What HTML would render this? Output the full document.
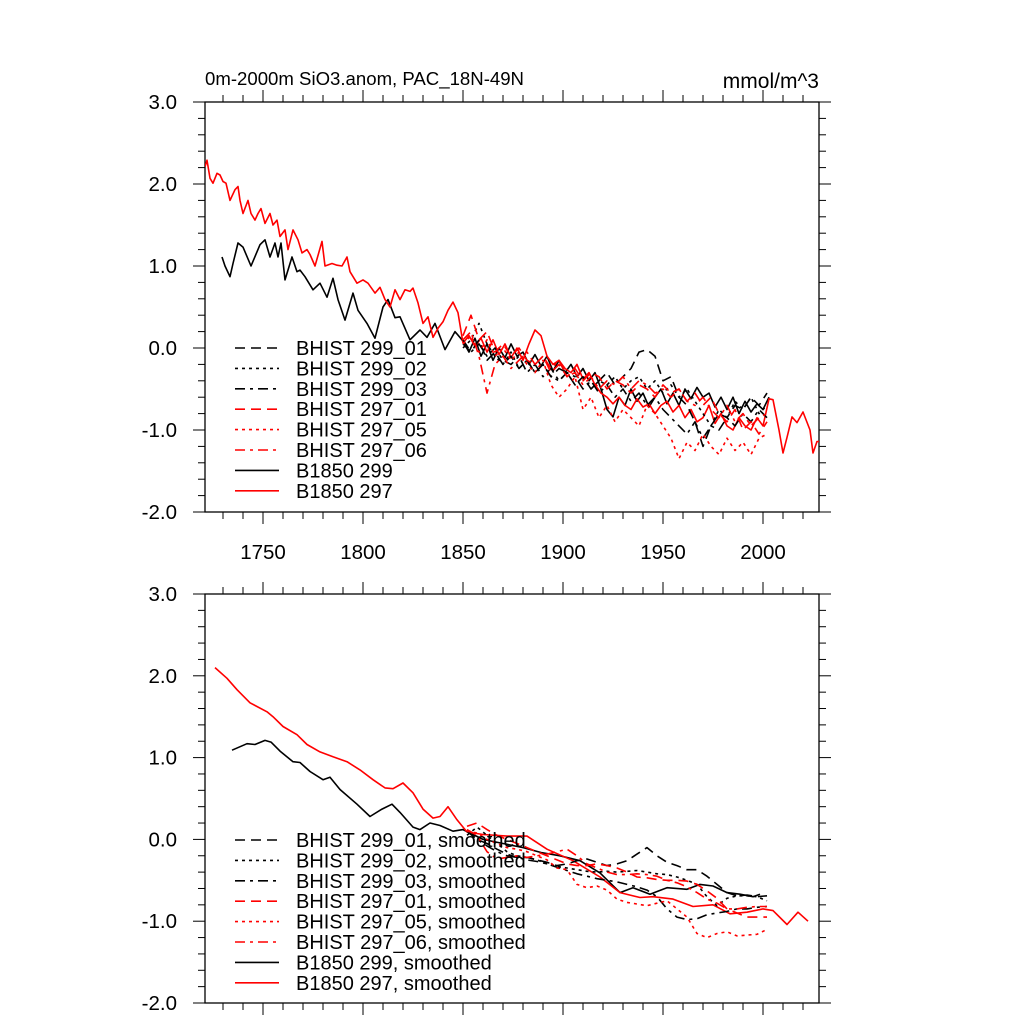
<!DOCTYPE html>
<html><head><meta charset="utf-8"><style>
html,body{margin:0;padding:0;background:#fff;}
svg{display:block;font-family:"Liberation Sans",sans-serif;}
</style></head><body>
<svg id="chart" width="1024" height="1024" viewBox="0 0 1024 1024">
<defs>
<clipPath id="c1"><rect x="205" y="102" width="614" height="410"/></clipPath>
<clipPath id="c2"><rect x="205" y="594" width="614" height="409"/></clipPath>
</defs>
<text x="205" y="85" font-size="18.6">0m-2000m SiO3.anom, PAC_18N-49N</text>
<text x="819" y="88" font-size="21" text-anchor="end">mmol/m^3</text>
</svg>
<script>
const xTicks=[1750,1800,1850,1900,1950,2000];
const yTicks=[3,2,1,0,-1,-2];
const yTickLabels=["3.0","2.0","1.0","0.0","-1.0","-2.0"];
const ctlRedYears=[1721,1722,1723.5,1725,1727,1728.5,1730,1731.5,1733.5,1736,1737.5,1738.5,1740,1742.5,1744,1746,1747.5,1749,1751,1753.5,1755,1757,1758.5,1761,1762.5,1765,1767.5,1769.5,1772,1773.5,1776,1779.5,1781,1784.5,1787,1789.5,1792,1793.5,1797,1800,1802.5,1806,1808.5,1811,1813.5,1816,1818.5,1821,1823.5,1825,1827.5,1830,1832.5,1835,1837.5,1840,1842.5,1845,1847.5,1850,1853,1856,1859,1862,1865,1868,1871,1874,1877,1880,1883,1886,1889,1892,1895,1898,1901,1904,1907,1910,1913,1916,1919,1922,1925,1928,1931,1934,1937,1940,1943,1946,1949,1952,1955,1958,1961,1964,1967,1970,1973,1976,1979,1982,1985,1988,1991,1994,1997,2000,2003,2005,2008,2010,2012,2014.5,2017,2020,2023.5,2025,2027,2028];
const ctlRedVals=[2.21,2.29,2.07,2.01,2.13,2.11,2.03,2.01,1.80,1.93,1.97,1.80,1.64,1.80,1.64,1.56,1.64,1.70,1.52,1.64,1.50,1.56,1.36,1.44,1.20,1.44,1.32,1.16,1.20,1.14,1.00,1.30,1.00,1.03,1.01,1.00,1.11,0.93,0.79,0.83,0.79,0.67,0.74,0.59,0.50,0.71,0.59,0.71,0.69,0.73,0.55,0.30,0.38,0.13,0.24,0.32,0.46,0.56,0.43,0.06,0.15,0.02,0.12,-0.05,0.10,-0.08,0.05,-0.12,0.0,-0.15,0.05,0.22,0.15,-0.1,-0.2,-0.15,-0.25,-0.3,-0.2,-0.38,-0.3,-0.45,-0.55,-0.6,-0.68,-0.6,-0.7,-0.75,-0.62,-0.72,-0.68,-0.8,-0.7,-0.65,-0.78,-0.7,-0.85,-0.75,-0.9,-0.85,-0.7,-0.92,-0.8,-0.95,-1.0,-0.85,-0.95,-1.0,-0.85,-0.95,-0.62,-0.63,-1.0,-1.28,-1.09,-0.84,-0.91,-0.78,-1.0,-1.28,-1.14,-1.14];
const ctlBlackYears=[1729.5,1731,1733.5,1735,1737.5,1740,1744,1748.5,1751,1753.5,1756,1757.5,1759,1761,1764.5,1767,1768.5,1771,1775,1778.5,1782,1785,1787.5,1791,1795,1797.5,1802,1806,1810,1812.5,1816,1818.5,1823.5,1828.5,1832,1836,1841,1846,1849.5,1853,1856,1859,1862,1865,1868,1871,1874,1877,1880,1883,1886,1889,1892,1895,1898,1901,1904,1907,1910,1913,1916,1919,1922,1925,1928,1931,1934,1937,1940,1943,1946,1949,1952,1955,1958,1961,1964,1967,1970,1973,1976,1979,1982,1985,1988,1991,1994,1997,2000,2003];
const ctlBlackVals=[1.11,1.0,0.87,1.03,1.28,1.23,1.0,1.26,1.32,1.11,1.28,1.11,1.28,0.83,1.11,0.93,0.95,0.87,0.71,0.79,0.62,0.85,0.59,0.34,0.67,0.46,0.30,0.12,0.50,0.59,0.37,0.38,0.10,0.22,0.13,0.30,-0.02,0.20,0.10,-0.05,0.12,-0.1,0.05,-0.15,0.0,-0.12,0.05,-0.1,-0.05,-0.2,-0.08,-0.22,-0.1,-0.28,-0.15,-0.3,-0.2,-0.35,-0.25,-0.4,-0.3,-0.5,-0.75,-0.84,-0.6,-0.7,-0.5,-0.65,-0.55,-0.72,-0.6,-0.5,-0.68,-0.55,-0.7,-0.5,-0.62,-0.48,-0.6,-0.55,-0.72,-0.6,-0.75,-0.6,-0.8,-0.65,-0.78,-0.68,-0.75,-0.6];
const histStart=1850, histStep=4;
const h299_01=[0.05,-0.05,0.1,-0.15,-0.05,-0.2,-0.1,-0.25,-0.15,-0.3,-0.2,-0.35,-0.25,-0.3,-0.45,-0.35,-0.5,-0.4,-0.3,-0.45,-0.35,-0.25,-0.05,-0.02,-0.1,-0.4,-0.35,-0.6,-0.7,-0.9,-1.2,-0.95,-0.8,-0.85,-0.7,-0.75,-0.6,-0.7,-0.55];
const h299_02=[0.0,0.1,0.3,0.05,-0.1,-0.2,-0.05,-0.25,-0.15,-0.3,-0.2,-0.35,-0.4,-0.3,-0.45,-0.35,-0.5,-0.4,-0.45,-0.35,-0.5,-0.4,-0.35,-0.5,-0.4,-0.55,-0.45,-0.6,-0.5,-0.65,-0.8,-0.95,-0.75,-0.85,-0.65,-0.75,-0.6,-0.8,-0.7];
const h299_03=[0.1,-0.05,0.05,-0.1,0.0,-0.15,-0.2,-0.1,-0.3,-0.2,-0.35,-0.25,-0.4,-0.3,-0.35,-0.5,-0.4,-0.55,-0.45,-0.6,-0.5,-0.65,-0.55,-0.7,-0.6,-0.75,-0.85,-0.95,-1.05,-0.9,-1.1,-0.95,-1.0,-0.85,-0.95,-0.8,-0.9,-0.75,-0.85];
const h297_01=[0.15,0.4,0.1,0.2,-0.05,0.05,-0.1,0.0,-0.15,-0.2,-0.1,-0.3,-0.2,-0.35,-0.25,-0.4,-0.3,-0.35,-0.5,-0.4,-0.45,-0.55,-0.45,-0.5,-0.6,-0.45,-0.55,-0.5,-0.65,-0.55,-0.7,-0.6,-0.8,-0.9,-0.75,-1.0,-0.9,-1.05,-0.9];
const h297_05=[0.05,0.15,-0.05,0.1,-0.1,0.0,-0.15,-0.05,-0.2,-0.3,-0.15,-0.45,-0.6,-0.5,-0.35,-0.75,-0.6,-0.85,-0.7,-0.9,-0.75,-0.85,-0.95,-0.7,-0.8,-0.95,-1.1,-1.35,-1.15,-1.25,-1.05,-1.2,-1.3,-1.1,-1.25,-1.15,-1.3,-1.1,-1.05];
const h297_06=[0.1,0.2,-0.1,-0.55,-0.2,-0.1,-0.25,-0.15,-0.05,-0.2,-0.1,-0.25,-0.15,-0.35,-0.3,-0.45,-0.35,-0.5,-0.4,-0.45,-0.35,-0.5,-0.4,-0.45,-0.55,-0.5,-0.6,-0.5,-0.65,-0.7,-0.6,-0.75,-0.85,-0.7,-0.9,-0.8,-0.95,-0.85,-0.8];
const smStart=1852, smStep=5;
const s299_01=[0.1,0.0,-0.05,-0.12,-0.18,-0.22,-0.22,-0.25,-0.28,-0.32,-0.3,-0.26,-0.24,-0.28,-0.32,-0.3,-0.26,-0.18,-0.1,-0.2,-0.28,-0.32,-0.37,-0.37,-0.45,-0.55,-0.65,-0.69,-0.68,-0.7,-0.69];
const s299_02=[0.05,0.15,0.05,-0.05,-0.15,-0.2,-0.22,-0.25,-0.3,-0.33,-0.35,-0.37,-0.39,-0.4,-0.39,-0.4,-0.39,-0.38,-0.4,-0.42,-0.43,-0.46,-0.5,-0.55,-0.7,-0.81,-0.72,-0.69,-0.69,-0.7,-0.75];
const s299_03=[0.1,0.0,-0.08,-0.15,-0.2,-0.22,-0.25,-0.27,-0.3,-0.34,-0.38,-0.42,-0.45,-0.48,-0.5,-0.52,-0.55,-0.58,-0.62,-0.7,-0.85,-0.95,-0.98,-0.97,-0.92,-0.9,-0.88,-0.85,-0.85,-0.83,-0.82];
const s297_01=[0.16,0.2,0.12,0.05,0.0,-0.05,-0.1,-0.15,-0.2,-0.25,-0.3,-0.32,-0.32,-0.3,-0.32,-0.35,-0.4,-0.46,-0.47,-0.49,-0.5,-0.5,-0.51,-0.55,-0.63,-0.72,-0.85,-0.9,-0.95,-0.95,-0.95];
const s297_05=[0.1,0.08,0.0,-0.05,-0.1,-0.12,-0.15,-0.2,-0.25,-0.35,-0.37,-0.55,-0.59,-0.57,-0.62,-0.73,-0.77,-0.79,-0.81,-0.78,-0.75,-0.85,-0.95,-1.15,-1.2,-1.15,-1.13,-1.18,-1.17,-1.16,-1.1];
const s297_06=[0.12,0.05,-0.15,-0.24,-0.22,-0.2,-0.22,-0.2,-0.18,-0.15,-0.12,-0.2,-0.3,-0.35,-0.4,-0.43,-0.43,-0.42,-0.43,-0.45,-0.5,-0.53,-0.58,-0.65,-0.73,-0.78,-0.85,-0.85,-0.83,-0.82,-0.82];
const smRedYears=[1726,1732,1737,1743.5,1752,1755,1760,1767,1772,1778.5,1785,1792,1798.5,1805,1811,1815,1820,1825,1830,1835,1838.5,1842.5,1847,1852,1860,1872,1882,1892,1905,1918.5,1928.5,1938.5,1945,1955,1965,1975,1983.5,1992,2000,2005,2012,2017.5,2022.5];
const smRedVals=[2.10,1.97,1.83,1.67,1.56,1.50,1.38,1.28,1.16,1.07,1.01,0.95,0.85,0.73,0.63,0.62,0.69,0.57,0.37,0.26,0.28,0.40,0.24,0.09,0.06,0.04,0.04,-0.12,-0.26,-0.46,-0.65,-0.71,-0.70,-0.73,-0.82,-0.80,-0.91,-0.89,-0.85,-0.87,-1.04,-0.89,-1.00];
const smBlackYears=[1734.5,1742,1746,1751,1754,1758.5,1765,1768.5,1773.5,1780,1783.5,1788.5,1797,1803.5,1809.5,1814.5,1818.5,1825,1828.5,1833.5,1838.5,1845,1850,1860,1870,1880,1889,1898.5,1908.5,1918.5,1928.5,1935,1943.5,1952,1962,1968.5,1975,1982,1988.5,1995,1998.5];
const smBlackVals=[1.09,1.17,1.16,1.21,1.19,1.08,0.95,0.94,0.83,0.73,0.76,0.61,0.43,0.28,0.37,0.43,0.33,0.15,0.12,0.20,0.17,0.10,0.12,0.0,-0.05,-0.1,-0.16,-0.20,-0.26,-0.41,-0.65,-0.59,-0.67,-0.59,-0.61,-0.55,-0.57,-0.65,-0.67,-0.70,-0.67];

const NS='http://www.w3.org/2000/svg';
const svg=document.getElementById('chart');
const X0=205,X1=819,XMIN=1721,XMAX=2028;
function sx(yr){return X0+(yr-XMIN)*(X1-X0)/(XMAX-XMIN);}
function mkY(top,bot){return v=>top+(3-v)*(bot-top)/5;}
function el(tag,attrs,parent){const e=document.createElementNS(NS,tag);for(const k in attrs)e.setAttribute(k,attrs[k]);(parent||svg).appendChild(e);return e;}
const DASH={solid:'',dash:'10 6',dot:'3 4',dashdot:'10 5 3 5'};
function series(g,years,vals,sy,color,style,name,w){
  let d='';for(let i=0;i<vals.length;i++){d+=(i?'L':'M')+sx(years[i]).toFixed(1)+','+sy(vals[i]).toFixed(1);}
  const p=el('path',{d:d,fill:'none',stroke:color,'stroke-width':w||1.6,'stroke-dasharray':DASH[style],'stroke-linejoin':'round'},g);
  
  
}
function idxYears(start,step,n){const a=[];for(let i=0;i<n;i++)a.push(start+i*step);return a;}
function panel(top,bot,clipId,showX,prefix){
  const sy=mkY(top,bot);
  const g=el('g',{});
  
  
  const fr=el('rect',{x:X0,y:top,width:X1-X0,height:bot-top,fill:'none',stroke:'#000','stroke-width':1.3},g);
  
  
  for(let yr=1730;yr<=2020;yr+=10){
    const major=yr%50===0, L=major?12:7, x=sx(yr);
    el('line',{x1:x,x2:x,y1:bot,y2:bot+L,stroke:'#000','stroke-width':1},g);
    el('line',{x1:x,x2:x,y1:top,y2:top-L,stroke:'#000','stroke-width':1},g);
  }
  for(let k=0;k<=25;k++){
    const v=-2+k*0.2, y=sy(v), major=k%5===0, L=major?12:7;
    el('line',{x1:X0,x2:X0-L,y1:y,y2:y,stroke:'#000','stroke-width':1},g);
    el('line',{x1:X1,x2:X1+L,y1:y,y2:y,stroke:'#000','stroke-width':1},g);
  }
  yTicks.forEach((v,i)=>{
    const t=el('text',{x:177,y:sy(v)+7,'font-size':20.5,'text-anchor':'end'},g);
    t.textContent=yTickLabels[i];
    
    
  });
  if(showX){xTicks.forEach(yr=>{
    const t=el('text',{x:sx(yr),y:bot+47,'font-size':20.5,'text-anchor':'middle'},g);
    t.textContent=String(yr);
    
    
  });}
  const dg=el('g',{'clip-path':'url(#'+clipId+')'},g);
  return {g:dg,sy:sy,root:g};
}
function legend(g,top,suffix,prefix){
  const items=[['BHIST 299_01','#000','dash'],['BHIST 299_02','#000','dot'],['BHIST 299_03','#000','dashdot'],['BHIST 297_01','#f00','dash'],['BHIST 297_05','#f00','dot'],['BHIST 297_06','#f00','dashdot'],['B1850 299','#000','solid'],['B1850 297','#f00','solid']];
  const lg=el('g',{},g);
  
  
  items.forEach((it,i)=>{
    const y=top+i*20.4;
    const l=el('line',{x1:235,x2:279,y1:y,y2:y,stroke:it[1],'stroke-width':1.6,'stroke-dasharray':DASH[it[2]]},lg);
    
    
    const t=el('text',{x:296,y:y+7,'font-size':20},lg);
    t.textContent=it[0]+suffix;
    
    
  });
}
const P1=panel(102,512,'c1',true,'raw');
const hy=idxYears(histStart,histStep,h299_01.length);
series(P1.g,ctlBlackYears,ctlBlackVals,P1.sy,'#000','solid','b1850-299-line');
series(P1.g,ctlRedYears,ctlRedVals,P1.sy,'#f00','solid','b1850-297-line');
series(P1.g,hy,h299_01,P1.sy,'#000','dash','bhist-299-01-line');
series(P1.g,hy,h299_02,P1.sy,'#000','dot','bhist-299-02-line');
series(P1.g,hy,h299_03,P1.sy,'#000','dashdot','bhist-299-03-line');
series(P1.g,hy,h297_01,P1.sy,'#f00','dash','bhist-297-01-line');
series(P1.g,hy,h297_05,P1.sy,'#f00','dot','bhist-297-05-line');
series(P1.g,hy,h297_06,P1.sy,'#f00','dashdot','bhist-297-06-line');
legend(P1.root,348,'','raw');
const P2=panel(594,1003,'c2',false,'smoothed');
const syr=idxYears(smStart,smStep,s299_01.length);
series(P2.g,smBlackYears,smBlackVals,P2.sy,'#000','solid','b1850-299-smoothed-line');
series(P2.g,smRedYears,smRedVals,P2.sy,'#f00','solid','b1850-297-smoothed-line');
series(P2.g,syr,s299_01,P2.sy,'#000','dash','bhist-299-01-smoothed-line');
series(P2.g,syr,s299_02,P2.sy,'#000','dot','bhist-299-02-smoothed-line');
series(P2.g,syr,s299_03,P2.sy,'#000','dashdot','bhist-299-03-smoothed-line');
series(P2.g,syr,s297_01,P2.sy,'#f00','dash','bhist-297-01-smoothed-line');
series(P2.g,syr,s297_05,P2.sy,'#f00','dot','bhist-297-05-smoothed-line');
series(P2.g,syr,s297_06,P2.sy,'#f00','dashdot','bhist-297-06-smoothed-line');
legend(P2.root,840,', smoothed','smoothed');
</script>
</body></html>
